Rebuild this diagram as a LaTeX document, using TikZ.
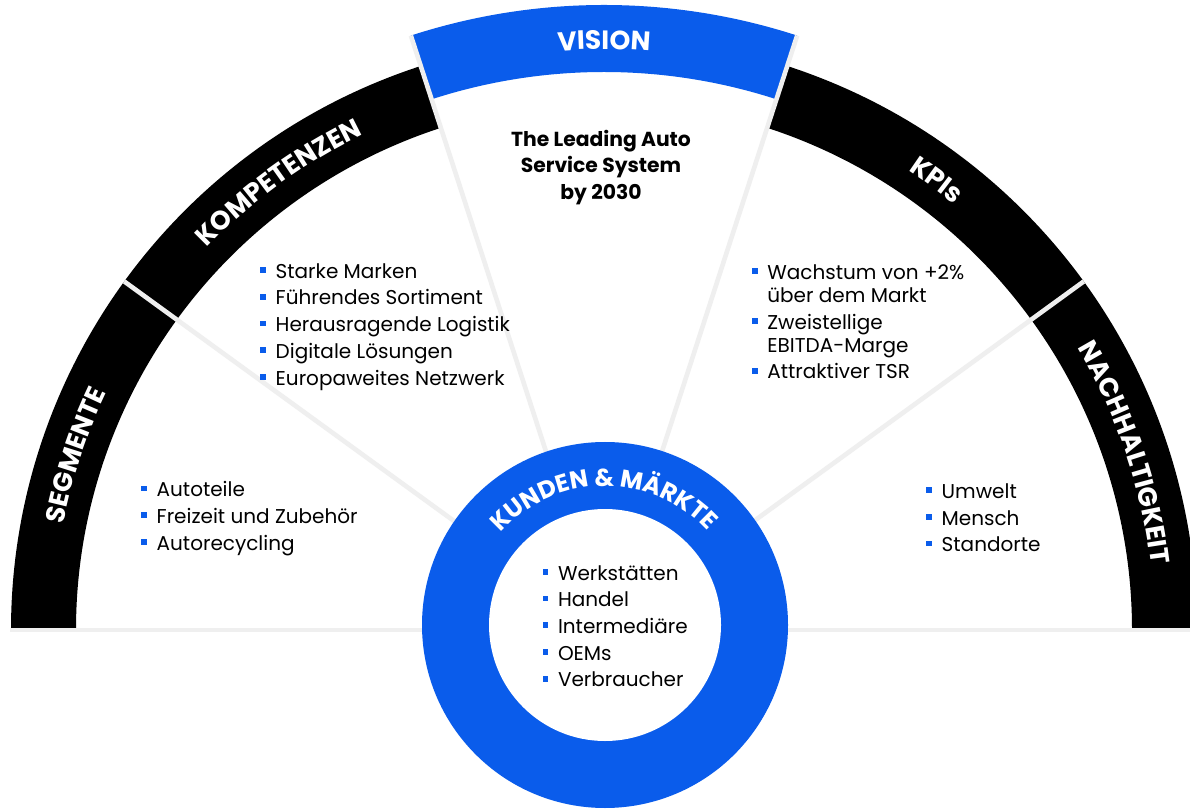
\documentclass[tikz,border=0pt]{standalone}
\usepackage{fontspec}
\setmainfont{Poppins}
\usetikzlibrary{decorations.text}
\definecolor{kblue}{RGB}{10,92,235}
\definecolor{lgrey}{RGB}{239,239,239}
\newcommand\bul{\textcolor{kblue}{\rule[5.3pt]{5.8pt}{5.8pt}}}
\newcommand\labfmt{\bfseries\fontsize{26.5}{26.5}\selectfont}
\newcommand\kunfmt{\bfseries\fontsize{24.5}{24.5}\selectfont}
\begin{document}
\begin{tikzpicture}[x=1pt,y=1pt,
  divider/.style={draw=lgrey,line width=4.6pt},
  arclabel/.style={decorate,decoration={text along path,text={|\labfmt|#1},
     text color=white,text align=center}},
  kunlabel/.style={decorate,decoration={text along path,text={|\kunfmt|#1},
     text color=white,text align=center}},
  list/.style={anchor=base west,inner sep=0pt,font=\fontsize{20}{26.7}\selectfont},
  vtext/.style={anchor=base,inner sep=0pt,font=\bfseries\fontsize{20.3}{26.2}\selectfont}]
\path[use as bounding box,fill=white] (0,0) rectangle (1190,809);

\begin{scope}[shift={(604,179)}]
  \coordinate (C) at (0,0);
  % black bands
  \fill[black] (0:593) arc[start angle=0,end angle=72,radius=593]
     -- (72:528) arc[start angle=72,end angle=0,radius=528] -- cycle;
  \fill[black] (108:593) arc[start angle=108,end angle=180,radius=593]
     -- (180:528) arc[start angle=180,end angle=108,radius=528] -- cycle;
  % vision band
  \fill[kblue] (72:625) arc[start angle=72,end angle=108,radius=625]
     -- (108:558) arc[start angle=108,end angle=72,radius=558] -- cycle;
  % dividers
  \coordinate (d36) at (36:593);
  \coordinate (d72) at (72:625);
  \coordinate (d108) at (108:625);
  \coordinate (d144) at (144:593);
  \coordinate (bl) at (-594,0);
  \coordinate (br) at (590,0);
  \draw[divider] (bl) -- (br);
  \draw[divider] (C) -- (d36);
  \draw[divider] (C) -- (d72);
  \draw[divider] (C) -- (d108);
  \draw[divider] (C) -- (d144);
  % arc labels
  \path[arclabel=SEGMENTE] (181.7:551) arc[start angle=181.7,end angle=141.7,radius=551];
  \path[arclabel=KOMPETENZEN] (150:551) arc[start angle=150,end angle=102,radius=551];
  \path[arclabel=VISION] (105:580.7) arc[start angle=105,end angle=75,radius=580.7];
  \path[arclabel=KPIs] (73.5:551) arc[start angle=73.5,end angle=33.5,radius=551];
  \path[arclabel=NACHHALTIGKEIT] (43.8:551) arc[start angle=43.8,end angle=-6.2,radius=551];
\end{scope}

% customers ring
\begin{scope}[shift={(605,184)}]
  \coordinate (B) at (0,0);
  \fill[kblue] (B) circle[radius=183];
  \fill[white] (B) circle[radius=116];
  \path[kunlabel={KUNDEN {\&} MÄRKTE}] (175.5:139) arc[start angle=175.5,end angle=5.5,radius=139];
\end{scope}

% vision text
\node[vtext] (vis) at (601,662.3) {\begin{tabular}[t]{@{}c@{}}The Leading Auto\\Service System\\by 2030\end{tabular}};

% lists
\node[list] (komp) at (260,530.7) {\begin{tabular}[t]{@{}l@{\hspace{9.7pt}}l@{}}
\bul & Starke Marken\\ \bul & Führendes Sortiment\\ \bul & Herausragende Logistik\\
\bul & Digitale Lösungen\\ \bul & Europaweites Netzwerk\end{tabular}};

\node[list,font=\fontsize{20}{23.3}\selectfont] (kpi) at (751.7,529.7) {\begin{tabular}[t]{@{}l@{\hspace{9.7pt}}l@{}}
\bul & Wachstum von +2\%\\ & über dem Markt\\[3.2pt] \bul & Zweistellige\\ & EBITDA-Marge\\[3.2pt]
\bul & Attraktiver TSR\end{tabular}};

\node[list] (seg) at (141,312.3) {\begin{tabular}[t]{@{}l@{\hspace{9.7pt}}l@{}}
\bul & Autoteile\\ \bul & Freizeit und Zubehör\\ \bul & Autorecycling\end{tabular}};

\node[list] (nach) at (926,310.7) {\begin{tabular}[t]{@{}l@{\hspace{9.7pt}}l@{}}
\bul & Umwelt\\ \bul & Mensch\\ \bul & Standorte\end{tabular}};

\node[list] (kund) at (542.3,229) {\begin{tabular}[t]{@{}l@{\hspace{9.7pt}}l@{}}
\bul & Werkstätten\\ \bul & Handel\\ \bul & Intermediäre\\ \bul & OEMs\\ \bul & Verbraucher\end{tabular}};
\end{tikzpicture}
\end{document}
